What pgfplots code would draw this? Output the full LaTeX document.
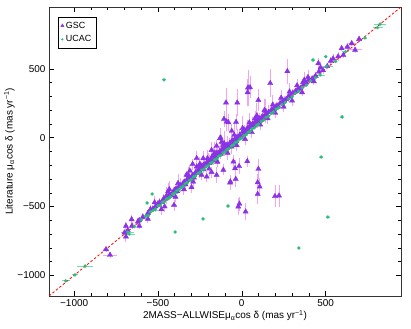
\documentclass[border=0pt]{standalone}
\usepackage{fontspec}
\setmainfont{Liberation Sans}
\usepackage{pgfplots}
\usepackage{pgfplotstable}
\pgfplotsset{compat=1.18}

\definecolor{gscpurple}{RGB}{140,50,230}
\definecolor{gscpink}{RGB}{242,165,242}
\definecolor{ucgreen}{RGB}{40,190,120}
\definecolor{ucgreenlt}{RGB}{110,225,170}

% GSC: x y ex ey
\pgfplotstableread{
x y ex ey
-700 -690 10 20
-680 -672 15 30
-655 -640 10 25
-612 -600 10 20
-590 -575 10 30
-560 -548 10 20
-545 -520 15 30
-530 -515 10 20
-515 -500 10 40
-500 -478 10 25
-490 -470 15 30
-478 -468 10 20
-465 -440 10 30
-455 -445 10 20
-448 -420 10 60
-440 -430 10 20
-430 -410 15 30
-420 -420 10 20
-410 -395 10 40
-400 -380 10 20
-392 -370 15 30
-385 -390 10 20
-375 -355 10 30
-368 -345 10 50
-360 -352 10 20
-350 -330 20 30
-342 -320 10 20
-335 -340 10 30
-325 -300 10 40
-318 -305 10 20
-310 -290 10 30
-300 -285 10 60
-292 -270 10 20
-285 -290 10 30
-275 -250 10 40
-268 -255 10 20
-260 -235 10 30
-252 -245 10 50
-245 -220 10 20
-238 -205 10 30
-230 -230 10 20
-222 -195 10 40
-215 -200 15 30
-208 -180 10 20
-200 -170 10 60
-192 -185 10 30
-185 -160 10 20
-178 -140 10 50
-170 -165 10 30
-162 -130 10 40
-155 -145 10 20
-148 -110 10 60
-140 -125 10 30
-132 -100 10 40
-125 -118 10 20
-118 -85 10 50
-110 -95 10 30
-102 -70 10 40
-95 -80 10 20
-88 -50 10 60
-80 -65 10 30
-72 -40 10 40
-65 -55 10 20
-58 -20 10 50
-50 -35 10 30
-42 -10 10 40
-35 -25 10 20
-28 5 10 60
-20 -5 10 30
-12 20 10 40
-5 5 10 20
3 40 10 50
10 25 10 30
18 55 10 40
25 40 10 20
33 70 10 60
40 55 10 30
48 85 10 40
55 75 10 20
63 100 10 50
70 90 10 30
78 115 10 40
85 100 10 20
92 130 10 60
100 118 10 30
108 140 10 40
115 130 10 20
122 155 10 50
130 150 10 30
140 165 10 40
150 170 10 20
160 185 10 50
170 190 10 30
180 205 10 40
192 210 10 20
205 230 10 30
215 232 10 20
228 250 10 40
240 255 10 20
252 270 10 30
265 280 10 20
278 300 10 40
290 305 10 20
305 325 10 30
320 338 10 20
335 355 10 40
350 360 10 20
368 385 10 30
385 400 10 20
400 420 10 30
420 430 10 20
440 450 15 30
460 480 10 20
485 490 10 30
510 520 10 20
-520 -470 10 50
-480 -520 15 40
-440 -390 10 60
-395 -430 10 40
-380 -330 10 70
-345 -375 10 40
-320 -270 10 60
-290 -320 10 50
-255 -210 10 70
-240 -270 10 40
-205 -150 10 60
-195 -225 10 50
-160 -110 10 80
-145 -175 10 40
-105 -40 10 90
-85 -110 10 50
-45 20 10 80
-30 -55 10 40
5 70 10 90
20 -10 10 40
45 110 10 70
60 40 10 40
90 160 10 90
110 95 10 40
135 200 10 80
155 140 10 40
185 240 10 70
200 180 10 40
235 290 10 60
250 225 10 40
285 335 10 60
300 270 10 40
330 380 10 50
360 330 10 30
395 440 10 50
430 410 10 30
470 510 10 40
545 575 10 30
575 590 10 30
630 660 15 20
-560 -590 10 30
-620 -610 10 30
-460 -500 10 40
-180 -250 10 40
-300 -360 10 40
-94 255 10 110
-27 255 10 100
37 364 10 130
49 366 10 80
35 330 10 100
99 273 10 80
170 396 10 100
272 483 10 90
373 420 10 60
457 541 10 40
143 194 10 90
-106 136 10 60
-90 117 10 70
-34 114 10 60
79 141 10 50
-60 49 10 50
-126 0 10 70
33 -171 10 40
-21 -501 10 60
23 -537 10 60
-14 -480 10 50
99 -227 10 70
95 -324 10 60
107 -356 10 60
95 -409 10 70
198 -425 10 80
222 -421 10 80
-68 -319 10 50
-36 -300 10 60
-40 -222 10 60
-70 -327 10 50
-150 -271 10 60
-209 -283 10 40
-110 -234 10 40
-50 -174 10 50
-16 -207 10 60
-404 -489 20 40
-432 -375 10 60
-269 -210 10 40
-657 -593 10 30
-691 -641 10 30
-611 -641 15 20
-691 -719 10 40
-810 -811 20 20
-786 -852 40 20
596 650 10 20
656 686 30 20
700 717 10 20
606 601 10 20
676 638 40 20
531 558 10 30
366 404 10 30
-269 -149 10 50
-293 -191 10 40
-229 -198 10 60
-190 -174 10 50
-170 -125 10 60
-130 -101 10 50
-110 -53 10 40
-60 -65 10 50
-80 112 10 60
-130 -4 10 70
-230 -150 10 50
-180 -90 10 60
-150 -60 10 40
-250 -190 10 30
-310 -240 10 40
-330 -270 10 30
-120 -30 10 50
}\gsc

% UCAC: x y ex ey
\pgfplotstableread{
x y ex ey
-1050 -1040 25 8
-995 -997 20 8
-935 -932 45 8
-680 -685 40 10
-672 -700 35 10
-640 -645 10 8
-600 -598 10 8
-575 -570 25 8
-560 -565 10 8
-545 -540 10 8
-530 -528 30 8
-515 -518 10 8
-500 -495 10 8
-488 -492 15 8
-475 -470 10 8
-462 -465 10 8
-450 -445 20 8
-438 -440 10 8
-425 -428 10 8
-412 -410 10 8
-400 -402 20 8
-388 -385 10 8
-375 -378 10 8
-362 -360 10 8
-350 -352 10 8
-338 -335 10 8
-325 -328 10 8
-312 -310 10 8
-300 -303 10 8
-288 -285 10 8
-275 -278 10 8
-262 -260 10 8
-250 -252 10 8
-238 -235 10 8
-225 -228 10 8
-212 -210 10 8
-200 -203 10 8
-188 -185 10 8
-175 -178 10 8
-162 -160 10 8
-150 -152 10 8
-138 -135 10 8
-125 -128 10 8
-112 -110 10 8
-100 -103 10 8
-88 -85 10 8
-75 -78 10 8
-62 -60 10 8
-50 -52 10 8
-38 -35 10 8
-25 -28 10 8
-12 -10 10 8
0 -2 10 8
12 15 10 8
25 22 10 8
38 40 10 8
50 48 10 8
62 65 10 8
75 72 10 8
88 90 10 8
100 98 10 8
115 118 10 8
130 127 10 8
145 148 10 8
160 157 10 8
175 178 10 8
190 187 10 8
205 208 10 8
220 217 10 8
240 243 10 8
260 257 10 8
280 283 10 8
300 297 10 8
320 323 10 8
340 337 10 8
360 363 10 8
385 382 10 8
410 413 10 8
440 437 20 8
467 456 30 10
507 521 40 10
560 555 10 8
620 625 20 8
735 725 15 8
810 800 30 8
825 826 35 8
-464 420 10 8
473 -140 12 10
598 151 12 12
425 565 10 8
501 589 10 8
-82 -496 8 8
514 -576 10 8
341 -801 8 8
-535 -409 8 8
-565 -474 8 8
-398 -685 8 8
-231 -590 8 8
}\ucac

\begin{document}
\begin{tikzpicture}
\begin{axis}[
  scale only axis,
  width=352bp, height=289bp,
  xmin=-1150, xmax=950, ymin=-1150, ymax=950,
  xtick={-1000,-500,0,500}, xticklabels={−1000,−500,0,500},
  ytick={-1000,-500,0,500}, yticklabels={−1000,−500,0,500},
  minor tick num=4,
  tick align=inside,
  major tick length=5bp, minor tick length=3bp,
  every tick/.style={black, line width=0.5pt},
  axis line style={line width=0.7pt, black!80},
  ticklabel style={font=\fontsize{10}{12}\selectfont},
  label style={font=\fontsize{10}{12}\selectfont},
  xlabel={2MASS−ALLWISEμ\textsubscript{α}cos δ (mas yr\textsuperscript{−1})},
  ylabel={Literature μ\textsubscript{α}cos δ (mas yr\textsuperscript{−1})},
  xlabel style={yshift=3bp},
  ylabel style={yshift=-4bp},
  legend style={at={(0.026,0.965)}, anchor=north west, draw=black,
    font=\fontsize{9}{11}\selectfont, inner sep=2.5pt, row sep=2pt,
    legend cell align=left},
  legend image post style={scale=0.6},
]
\addplot[only marks, mark=triangle*, mark size=3pt, color=gscpurple,
  error bars/.cd, x dir=both, x explicit, y dir=both, y explicit,
  error bar style={color=gscpink, line width=0.9pt}, error mark=none]
  table[x=x, y=y, x error=ex, y error=ey] {\gsc};
\addlegendentry{GSC}
\addplot[only marks, mark=*, mark size=1.5pt, color=ucgreen,
  error bars/.cd, x dir=both, x explicit, y dir=both, y explicit,
  error bar style={color=ucgreenlt, line width=0.9pt}, error mark=none]
  table[x=x, y=y, x error=ex, y error=ey] {\ucac};
\addlegendentry{UCAC}
\addplot[red, dashed, line width=0.8pt, dash pattern=on 2.5pt off 2pt, forget plot]
  coordinates {(-1150,-1150) (950,950)};
\end{axis}
\pgfresetboundingbox
\path[use as bounding box] (current axis.south west) ++(-49bp,-33bp)
  rectangle ([xshift=10bp,yshift=7bp]current axis.north east);
\end{tikzpicture}
\end{document}
